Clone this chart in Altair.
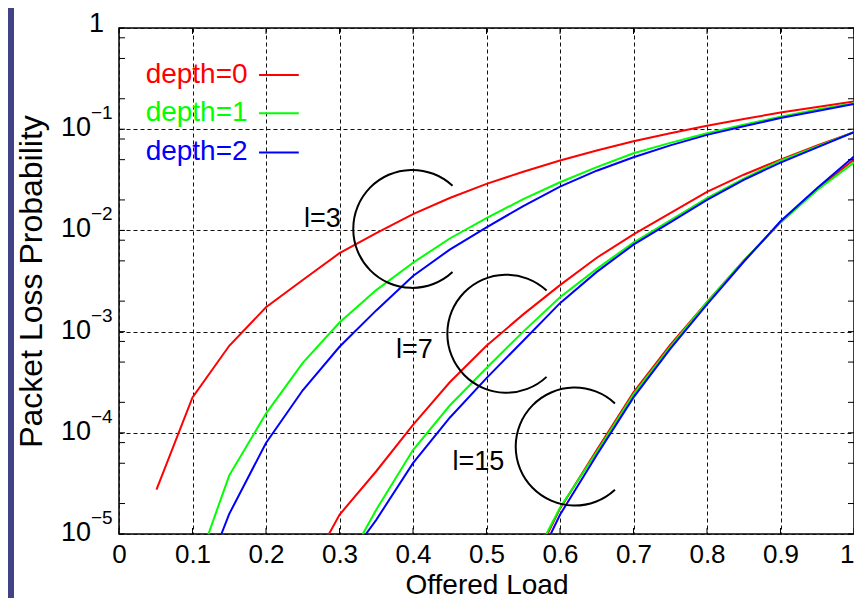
import altair as alt
import pandas as pd

FONT = "Liberation Sans"

DEPTHS = ["depth=0", "depth=1", "depth=2"]
COLORS = ["#ff0000", "#00ff00", "#0000ff"]

# ---- l = 3 ----
X3_D0 = [0.051, 0.10, 0.15, 0.20, 0.25, 0.30, 0.35, 0.40, 0.45, 0.50, 0.55, 0.60, 0.65, 0.70, 0.75, 0.80, 0.85, 0.90, 0.95, 1.00]
P3_D0 = [2.75e-5, 2.24e-4, 7.24e-4, 1.74e-3, 3.24e-3, 5.96e-3, 9.38e-3, 1.45e-2, 2.09e-2, 2.88e-2, 3.80e-2, 4.90e-2, 6.17e-2, 7.59e-2, 9.12e-2, 0.108, 0.126, 0.146, 0.166, 0.1875]
X3_D1 = [0.1217, 0.15, 0.20, 0.25, 0.30, 0.35, 0.40, 0.45, 0.50, 0.55, 0.60, 0.65, 0.70, 0.75, 0.80, 0.85, 0.90, 0.95, 1.00]
P3_D1 = [1e-5, 3.80e-5, 1.55e-4, 4.90e-4, 1.23e-3, 2.57e-3, 4.79e-3, 8.32e-3, 1.32e-2, 2.04e-2, 2.99e-2, 4.22e-2, 5.79e-2, 7.33e-2, 9.12e-2, 0.111, 0.133, 0.157, 0.181]
X3_D2 = [0.1393, 0.15, 0.20, 0.25, 0.30, 0.35, 0.40, 0.45, 0.50, 0.55, 0.60, 0.65, 0.70, 0.75, 0.80, 0.85, 0.90, 0.95, 1.00]
P3_D2 = [1e-5, 1.58e-5, 7.94e-5, 2.63e-4, 7.08e-4, 1.62e-3, 3.55e-3, 6.46e-3, 1.07e-2, 1.74e-2, 2.71e-2, 3.89e-2, 5.28e-2, 6.92e-2, 8.79e-2, 0.107, 0.129, 0.151, 0.177]

# ---- l = 7 ----
X7_D0 = [0.2857, 0.30, 0.35, 0.40, 0.45, 0.50, 0.55, 0.60, 0.65, 0.70, 0.75, 0.80, 0.85, 0.90, 0.95, 1.00]
P7_D0 = [1e-5, 1.55e-5, 4.17e-5, 1.20e-4, 3.16e-4, 7.24e-4, 1.48e-3, 2.88e-3, 5.37e-3, 9.12e-3, 1.48e-2, 2.40e-2, 3.55e-2, 5.01e-2, 6.92e-2, 9.33e-2]
X7_D1 = [0.3317, 0.35, 0.40, 0.45, 0.50, 0.55, 0.60, 0.65, 0.70, 0.75, 0.80, 0.85, 0.90, 0.95, 1.00]
P7_D1 = [1e-5, 1.74e-5, 6.76e-5, 1.86e-4, 4.37e-4, 1.00e-3, 2.19e-3, 4.17e-3, 7.59e-3, 1.26e-2, 2.09e-2, 3.24e-2, 4.90e-2, 6.76e-2, 9.33e-2]
X7_D2 = [0.336, 0.35, 0.40, 0.45, 0.50, 0.55, 0.60, 0.65, 0.70, 0.75, 0.80, 0.85, 0.90, 0.95, 1.00]
P7_D2 = [1e-5, 1.38e-5, 5.01e-5, 1.41e-4, 3.47e-4, 8.13e-4, 1.91e-3, 3.89e-3, 7.24e-3, 1.20e-2, 2.00e-2, 3.16e-2, 4.68e-2, 6.61e-2, 9.33e-2]

# ---- l = 15 ----
X15_D0 = [0.583, 0.60, 0.65, 0.70, 0.75, 0.80, 0.85, 0.90, 0.95, 1.00]
P15_D0 = [1e-5, 1.78e-5, 6.76e-5, 2.51e-4, 7.41e-4, 1.95e-3, 5.01e-3, 1.20e-2, 2.57e-2, 5.01e-2]
X15_D1 = [0.5815, 0.60, 0.65, 0.70, 0.75, 0.80, 0.85, 0.90, 0.95, 1.00]
P15_D1 = [1e-5, 1.82e-5, 6.46e-5, 2.40e-4, 7.08e-4, 1.95e-3, 5.01e-3, 1.20e-2, 2.51e-2, 4.68e-2]
X15_D2 = [0.5874, 0.60, 0.65, 0.70, 0.75, 0.80, 0.85, 0.90, 0.95, 1.00]
P15_D2 = [1e-5, 1.55e-5, 6.03e-5, 2.24e-4, 6.76e-4, 1.86e-3, 4.90e-3, 1.23e-2, 2.63e-2, 5.37e-2]

# ---- axes ----
XTICKS = [0, 0.1, 0.2, 0.3, 0.4, 0.5, 0.6, 0.7, 0.8, 0.9, 1]
YDECADES = [1, 1e-1, 1e-2, 1e-3, 1e-4, 1e-5]
YBASE = ["1", "10", "10", "10", "10", "10"]
YEXP = ["", "\u22121", "\u22122", "\u22123", "\u22124", "\u22125"]
YMINOR = [0.8, 0.5, 0.2, 0.08, 0.05, 0.02, 0.008, 0.005, 0.002,
          8e-4, 5e-4, 2e-4, 8e-5, 5e-5, 2e-5]

# ---- annotations ----
ANNOT_TEXT = ["l=3", "l=7", "l=15"]
ANNOT_X = [0.2767, 0.4018, 0.4889]
ANNOT_Y = [1.09e-2, 5.46e-4, 4.30e-5]
ARC_X = [0.399, 0.527, 0.620]
ARC_Y = [1.035e-2, 9.53e-4, 7.31e-5]

# ---- legend placement (data space) ----
LEG_TEXT_X = 0.175
LEG_TEXT_Y = [0.2847, 0.1194, 0.0497]
LEG_LINE_X1 = 0.1905
LEG_LINE_X2 = 0.2446
LEG_LINE_Y = [0.344, 0.1439, 0.0587]

W, H = 735, 506
PAD_L, PAD_T, PAD_R, PAD_B = 111, 20, 0, 64

series = [
    ("3", DEPTHS[0], X3_D0, P3_D0), ("3", DEPTHS[1], X3_D1, P3_D1), ("3", DEPTHS[2], X3_D2, P3_D2),
    ("7", DEPTHS[0], X7_D0, P7_D0), ("7", DEPTHS[1], X7_D1, P7_D1), ("7", DEPTHS[2], X7_D2, P7_D2),
    ("15", DEPTHS[0], X15_D0, P15_D0), ("15", DEPTHS[1], X15_D1, P15_D1), ("15", DEPTHS[2], X15_D2, P15_D2),
]
rows = []
for l, d, xs, ps in series:
    for x, p in zip(xs, ps):
        rows.append({"l": l, "depth": d, "load": x, "p": p})
df = pd.DataFrame(rows)

xs_ = alt.Scale(domain=[0, 1], nice=False, zero=False)
ys_ = alt.Scale(type="log", domain=[1e-5, 1], nice=False)
cs_ = alt.Scale(domain=DEPTHS, range=COLORS)

GRID = dict(grid=True, gridColor="#111111", gridDash=[4, 3], gridWidth=1, gridOpacity=1,
            ticks=False, domain=False)

X_AX = alt.Axis(values=XTICKS,
                labelExpr="datum.value == 0 ? '0' : (datum.value == 1 ? '1' : format(datum.value, '.1f'))",
                labelAlign={"expr": "datum.value == 1 ? 'right' : 'center'"},
                labelFont=FONT, labelFontSize=26, labelColor="black", labelPadding=7,
                labelFlush=False, labelOverlap=False,
                title="Offered Load", titleFont=FONT, titleFontSize=28, titleFontWeight="normal",
                titleColor="black", titleY=59, titleBaseline="alphabetic", **GRID)
Y_AX = alt.Axis(values=YDECADES, labels=False,
                title="Packet Loss Probability", titleFont=FONT, titleFontSize=32,
                titleFontWeight="normal", titleColor="black", titleAngle=270,
                titleBaseline="alphabetic", titleAlign="center", titleX=-PAD_L + 33,
                titleY=H / 2, **GRID)


def X(field):
    return alt.X(field, scale=xs_, axis=X_AX)


def Y(field):
    return alt.Y(field, scale=ys_, axis=Y_AX)


layers = []

# blue frame strip on the left
layers.append(alt.Chart(pd.DataFrame({"a": [0]})).mark_rect(color="#424286").encode(
    x=alt.value(-PAD_L), x2=alt.value(-PAD_L + 6), y=alt.value(-PAD_T), y2=alt.value(H + PAD_B)))

# curves
for d in DEPTHS:
    layers.append(alt.Chart(df).transform_filter(alt.datum.depth == d).mark_line(
        strokeWidth=2, clip=True).encode(
        x=X("load:Q"), y=Y("p:Q"), detail="l:N",
        color=alt.Color("depth:N", scale=cs_, legend=None)))

# arcs around each group
arc_df = pd.DataFrame({"x": ARC_X, "y": ARC_Y})
layers.append(alt.Chart(arc_df).mark_arc(color="black").encode(
    x=X("x:Q"), y=Y("y:Q"),
    theta=alt.value(2.391), theta2=alt.value(7.034),
    radius=alt.value(60), radius2=alt.value(58)))

# annotation labels
ann_df = pd.DataFrame({"x": ANNOT_X, "y": ANNOT_Y, "t": ANNOT_TEXT})
layers.append(alt.Chart(ann_df).mark_text(font=FONT, fontSize=27, color="black",
                                          align="center", baseline="alphabetic").encode(
    x=X("x:Q"), y=Y("y:Q"), text="t:N"))

# legend
leg_df = pd.DataFrame({"depth": DEPTHS, "ty": LEG_TEXT_Y, "ly": LEG_LINE_Y,
                       "tx": [LEG_TEXT_X] * 3, "x1": [LEG_LINE_X1] * 3, "x2": [LEG_LINE_X2] * 3})
layers.append(alt.Chart(leg_df).mark_text(font=FONT, fontSize=28, align="right",
                                          baseline="alphabetic").encode(
    x=X("tx:Q"), y=Y("ty:Q"), text="depth:N",
    color=alt.Color("depth:N", scale=cs_, legend=None)))
layers.append(alt.Chart(leg_df).mark_rule(strokeWidth=2).encode(
    x=X("x1:Q"), x2="x2:Q", y=Y("ly:Q"),
    color=alt.Color("depth:N", scale=cs_, legend=None)))

# inward ticks
xt_df = pd.DataFrame({"t": XTICKS})
layers.append(alt.Chart(xt_df).mark_rule(color="black", strokeWidth=1).encode(
    x=X("t:Q"), y=alt.value(H - 6), y2=alt.value(H)))
layers.append(alt.Chart(xt_df).mark_rule(color="black", strokeWidth=1).encode(
    x=X("t:Q"), y=alt.value(0), y2=alt.value(6)))
yt_df = pd.DataFrame({"t": YDECADES + YMINOR})
layers.append(alt.Chart(yt_df).mark_rule(color="black", strokeWidth=1).encode(
    y=Y("t:Q"), x=alt.value(0), x2=alt.value(6)))
layers.append(alt.Chart(yt_df).mark_rule(color="black", strokeWidth=1).encode(
    y=Y("t:Q"), x=alt.value(W - 6), x2=alt.value(W)))

# y tick labels with superscript exponents
ylab_df = pd.DataFrame({"v": YDECADES, "b": YBASE, "e": YEXP})
layers.append(alt.Chart(ylab_df).transform_filter(alt.datum.v < 0.5).mark_text(
    font=FONT, fontSize=27, color="black", align="right", baseline="middle", dy=-1).encode(
    y=Y("v:Q"), x=alt.value(-28), text="b:N"))
layers.append(alt.Chart(ylab_df).transform_filter(alt.datum.v > 0.5).mark_text(
    font=FONT, fontSize=27, color="black", align="right", baseline="middle", dy=-4).encode(
    y=Y("v:Q"), x=alt.value(-15), text="b:N"))
layers.append(alt.Chart(ylab_df).transform_filter(alt.datum.v < 0.5).mark_text(
    font=FONT, fontSize=19, color="black", align="left", baseline="alphabetic", dy=-10).encode(
    y=Y("v:Q"), x=alt.value(-28), text="e:N"))

chart = alt.layer(*layers).properties(
    width=W, height=H,
    padding={"left": PAD_L, "top": PAD_T, "right": PAD_R, "bottom": PAD_B},
    autosize=alt.AutoSizeParams(type="none"),
    background="white",
).configure_view(stroke="black", strokeWidth=1.5)

chart.save("out.html", embed_options={"renderer": "svg", "actions": False})
